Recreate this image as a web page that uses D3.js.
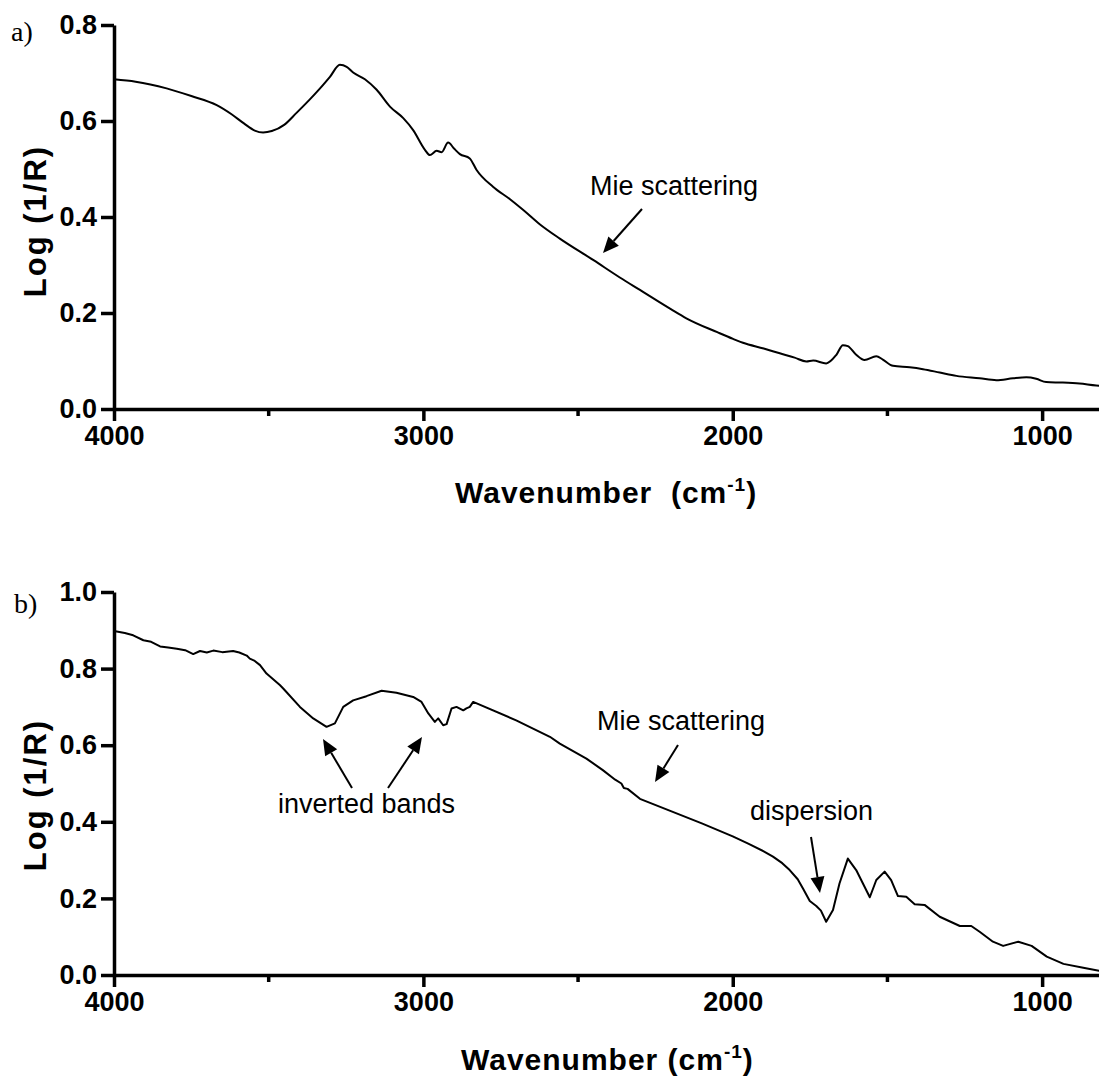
<!DOCTYPE html>
<html>
<head>
<meta charset="utf-8">
<script src="https://cdn.jsdelivr.net/npm/d3@7"></script>
<style>
  html, body { margin: 0; padding: 0; background: #fff; }
  svg { display: block; }
</style>
</head>
<body>
<svg id="chart" width="1099" height="1078"></svg>
<script>
// Spectrum a: wavenumber (cm-1) and Log(1/R)
const wavenumberA = [4000, 3930, 3830, 3750, 3668, 3620, 3580, 3545, 3518, 3490, 3450, 3410, 3370, 3334, 3302, 3270, 3248, 3227, 3189, 3151, 3108, 3065, 3033, 2995, 2979, 2957, 2941, 2920, 2900, 2882, 2850, 2828, 2775, 2720, 2678, 2624, 2559, 2450, 2365, 2300, 2200, 2150, 2050, 1999, 1967, 1900, 1848, 1800, 1762, 1740, 1698, 1665, 1644, 1628, 1601, 1574, 1536, 1515, 1482, 1428, 1385, 1331, 1277, 1202, 1148, 1094, 1051, 1019, 987, 933, 879, 825, 800];
const logRA = [0.687, 0.682, 0.668, 0.652, 0.633, 0.614, 0.595, 0.580, 0.576, 0.579, 0.592, 0.617, 0.643, 0.668, 0.692, 0.717, 0.713, 0.701, 0.687, 0.665, 0.630, 0.606, 0.581, 0.540, 0.529, 0.538, 0.535, 0.555, 0.542, 0.531, 0.522, 0.498, 0.463, 0.437, 0.415, 0.385, 0.355, 0.310, 0.274, 0.248, 0.208, 0.189, 0.160, 0.146, 0.138, 0.126, 0.116, 0.107, 0.099, 0.101, 0.095, 0.113, 0.133, 0.131, 0.113, 0.102, 0.110, 0.103, 0.090, 0.087, 0.083, 0.076, 0.069, 0.064, 0.060, 0.064, 0.066, 0.063, 0.056, 0.055, 0.053, 0.049, 0.048];

// Spectrum b: wavenumber (cm-1) and Log(1/R)
const wavenumberB = [4000, 3965, 3938, 3905, 3880, 3851, 3825, 3797, 3770, 3744, 3722, 3700, 3679, 3650, 3615, 3595, 3571, 3561, 3545, 3528, 3507, 3464, 3453, 3399, 3356, 3313, 3286, 3259, 3227, 3184, 3135, 3087, 3033, 3006, 2984, 2963, 2952, 2936, 2925, 2909, 2893, 2871, 2861, 2850, 2839, 2700, 2591, 2559, 2473, 2420, 2380, 2360, 2352, 2340, 2300, 2200, 2100, 2000, 1950, 1900, 1870, 1840, 1816, 1790, 1773, 1751, 1730, 1715, 1698, 1676, 1655, 1628, 1601, 1557, 1536, 1509, 1488, 1466, 1439, 1412, 1380, 1331, 1266, 1229, 1202, 1159, 1126, 1077, 1034, 985, 931, 867, 816, 800];
const logRB = [0.898, 0.893, 0.887, 0.874, 0.870, 0.858, 0.855, 0.852, 0.848, 0.838, 0.846, 0.842, 0.847, 0.843, 0.846, 0.842, 0.834, 0.826, 0.820, 0.809, 0.787, 0.757, 0.748, 0.700, 0.670, 0.648, 0.657, 0.700, 0.717, 0.728, 0.742, 0.737, 0.726, 0.713, 0.683, 0.661, 0.670, 0.652, 0.655, 0.696, 0.700, 0.691, 0.696, 0.700, 0.713, 0.665, 0.622, 0.604, 0.565, 0.535, 0.510, 0.500, 0.488, 0.486, 0.460, 0.428, 0.396, 0.362, 0.343, 0.323, 0.309, 0.292, 0.274, 0.250, 0.226, 0.193, 0.180, 0.168, 0.139, 0.170, 0.239, 0.304, 0.274, 0.203, 0.248, 0.270, 0.248, 0.206, 0.204, 0.185, 0.183, 0.152, 0.128, 0.128, 0.113, 0.087, 0.076, 0.087, 0.076, 0.048, 0.029, 0.019, 0.011, 0.010];

// Axis ticks
const xMajorTicks = [4000, 3000, 2000, 1000];
const xMinorTicks = [3500, 2500, 1500];
const yTicksA = [0.0, 0.2, 0.4, 0.6, 0.8];
const yTicksB = [0.0, 0.2, 0.4, 0.6, 0.8, 1.0];

const svg = d3.select("#chart");
const sansBold = "'Liberation Sans', Arial, Helvetica, sans-serif";

function drawPanel(cfg) {
  const x = d3.scaleLinear().domain([4000, 800]).range([114, 1104]);
  const y = d3.scaleLinear().domain([0, cfg.yMax]).range([cfg.bottom, cfg.top]);
  const g = svg.append("g");

  // spectrum line
  const line = d3.line().curve(cfg.curve).x((d, i) => x(cfg.wn[i])).y(d => y(d));
  g.append("path")
    .datum(cfg.vals)
    .attr("fill", "none")
    .attr("stroke", "#000")
    .attr("stroke-width", 2)
    .attr("stroke-linejoin", "round")
    .attr("d", line);

  // x axis (major ticks labelled, minor ticks short)
  const xAxis = g.append("g").attr("transform", `translate(0,${cfg.bottom})`)
    .call(d3.axisBottom(x).tickValues(xMajorTicks).tickSize(12).tickSizeOuter(0).tickPadding(5).tickFormat(d3.format("d")));
  xAxis.select(".domain").attr("stroke-width", 3.5);
  xAxis.selectAll(".tick line").attr("stroke-width", 3.5);
  xAxis.selectAll(".tick text")
    .attr("font-family", sansBold).attr("font-weight", "bold").attr("font-size", 27).attr("fill", "#000");
  const minor = g.append("g").attr("transform", `translate(0,${cfg.bottom})`);
  minor.selectAll("line").data(xMinorTicks).join("line")
    .attr("x1", d => x(d)).attr("x2", d => x(d)).attr("y1", 0).attr("y2", 7)
    .attr("stroke", "#000").attr("stroke-width", 3.5);

  // y axis
  const yAxis = g.append("g").attr("transform", `translate(114,0)`)
    .call(d3.axisLeft(y).tickValues(cfg.yTicks).tickSize(13).tickSizeOuter(0).tickPadding(4).tickFormat(d3.format(".1f")));
  yAxis.select(".domain").attr("stroke-width", 3.5);
  yAxis.selectAll(".tick line").attr("stroke-width", 3.5);
  yAxis.selectAll(".tick text")
    .attr("font-family", sansBold).attr("font-weight", "bold").attr("font-size", 27).attr("fill", "#000");

  // axis titles
  const xt = g.append("text")
    .attr("x", cfg.xTitleX).attr("y", cfg.xTitleY)
    .attr("font-family", sansBold).attr("font-weight", "bold").attr("font-size", 30)
    .attr("letter-spacing", 1)
    .attr("xml:space", "preserve");
  xt.append("tspan").text(cfg.xTitle);
  xt.append("tspan").attr("font-size", 19).attr("dy", -12).text("-1");
  xt.append("tspan").attr("dy", 12).text(")");

  g.append("text")
    .attr("transform", `translate(${cfg.yTitleX},${cfg.yTitleY}) rotate(-90)`)
    .attr("text-anchor", "middle")
    .attr("font-family", sansBold).attr("font-weight", "bold").attr("font-size", 31)
    .attr("letter-spacing", 2)
    .text("Log (1/R)");

  // panel letter
  g.append("text")
    .attr("x", cfg.letterX).attr("y", cfg.letterY)
    .attr("font-family", "'Liberation Serif', 'Times New Roman', serif").attr("font-size", 28)
    .text(cfg.letter);

  return g;
}

function annotate(g, label, tx, ty, arrows) {
  g.append("text").attr("x", tx).attr("y", ty)
    .attr("font-family", "'Liberation Sans', Arial, sans-serif").attr("font-size", 27)
    .text(label);
  arrows.forEach(([x1, y1, x2, y2]) => {
    const ang = Math.atan2(y2 - y1, x2 - x1);
    const len = 16, half = 7;
    const bx = x2 - len * Math.cos(ang), by = y2 - len * Math.sin(ang);
    g.append("line").attr("x1", x1).attr("y1", y1).attr("x2", bx).attr("y2", by)
      .attr("stroke", "#000").attr("stroke-width", 2);
    const px = -Math.sin(ang) * half, py = Math.cos(ang) * half;
    g.append("path")
      .attr("d", `M${x2},${y2}L${bx + px},${by + py}L${bx - px},${by - py}Z`)
      .attr("fill", "#000");
  });
}

const gA = drawPanel({
  wn: wavenumberA, vals: logRA, yMax: 0.8, top: 25, bottom: 409, yTicks: yTicksA,
  curve: d3.curveMonotoneX,
  xTitle: "Wavenumber  (cm", xTitleX: 455, xTitleY: 503,
  yTitleX: 46, yTitleY: 221, letter: "a)", letterX: 11, letterY: 41
});
annotate(gA, "Mie scattering", 590, 195, [[642, 209, 603, 253]]);

const gB = drawPanel({
  wn: wavenumberB, vals: logRB, yMax: 1.0, top: 592, bottom: 975, yTicks: yTicksB,
  curve: d3.curveLinear,
  xTitle: "Wavenumber (cm", xTitleX: 461, xTitleY: 1070,
  yTitleX: 46, yTitleY: 795, letter: "b)", letterX: 14, letterY: 613
});
annotate(gB, "Mie scattering", 597, 730, [[678, 745, 655, 782]]);
annotate(gB, "inverted bands", 278, 813, [[352, 788, 323, 739], [388, 788, 422, 737]]);
annotate(gB, "dispersion", 750, 820, [[811, 837, 820, 893]]);
</script>
</body>
</html>
